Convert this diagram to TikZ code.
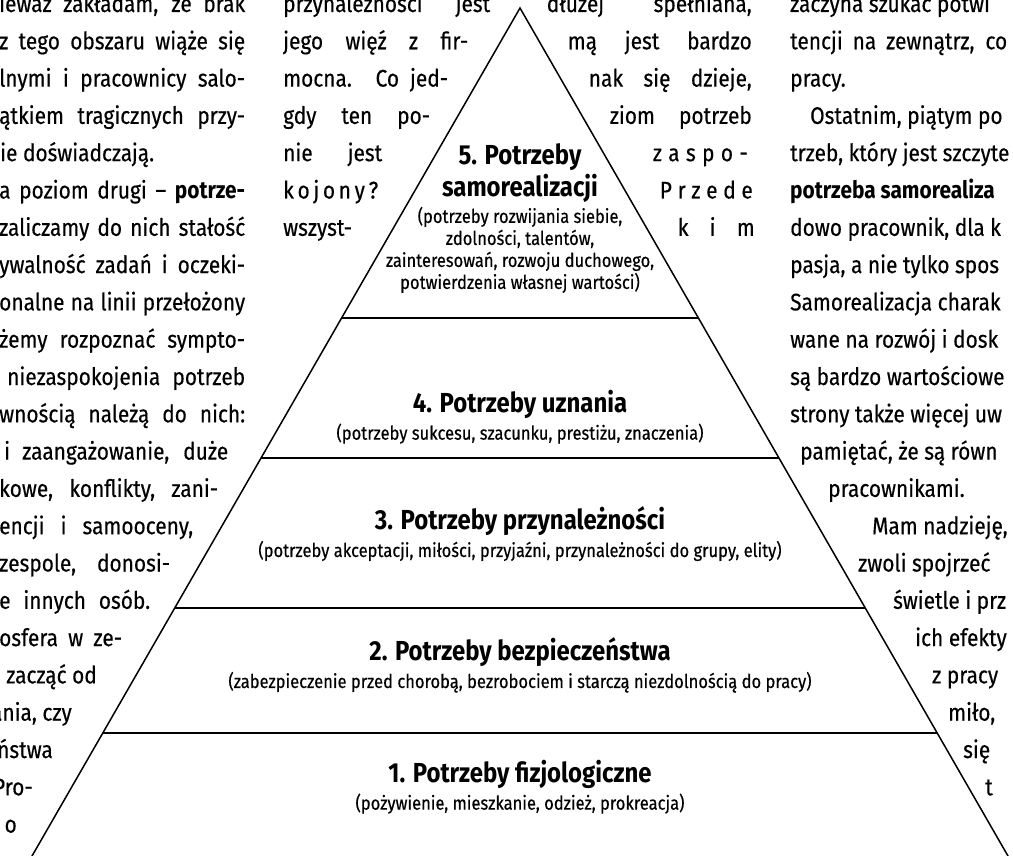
\documentclass[tikz,border=0pt]{standalone}
\usepackage{fontspec}
\setmainfont{Fira Sans}[FakeStretch=0.87, UprightFeatures={FakeBold=0.4}]
\usetikzlibrary{positioning,calc}
\newcommand{\just}[2]{\makebox[#1][s]{#2}}

\begin{document}
\begin{tikzpicture}[
  x=1pt, y=-1pt,
  node distance=5pt,
  every node/.style={inner sep=0pt, text=black},
  body/.style={font=\fontsize{24}{28}\selectfont},
  title/.style={font=\fontsize{27.5}{32}\selectfont\bfseries, align=center},
  sub/.style={font=\fontsize{19}{22}\selectfont, align=center},
  tier/.style={line width=1.5pt}
]
\useasboundingbox (0,0) rectangle (1013,856);
\clip (0,0) rectangle (1013,856);

% piramida
\coordinate (top) at (520,8);
\coordinate (bl) at (6.7,900);
\coordinate (br) at (1033.3,900);
\draw[tier, line join=miter] (bl) -- (top) -- (br);
\coordinate (l54) at ($(top)!0.3475!(bl)$);
\coordinate (r54) at ($(top)!0.3475!(br)$);
\coordinate (l43) at ($(top)!0.5045!(bl)$);
\coordinate (r43) at ($(top)!0.5045!(br)$);
\coordinate (l32) at ($(top)!0.6726!(bl)$);
\coordinate (r32) at ($(top)!0.6726!(br)$);
\coordinate (l21) at ($(top)!0.8128!(bl)$);
\coordinate (r21) at ($(top)!0.8128!(br)$);
\draw[tier] (l54) -- (r54);
\draw[tier] (l43) -- (r43);
\draw[tier] (l32) -- (r32);
\draw[tier] (l21) -- (r21);

\node[title] (t5) at (520,173) {5. Potrzeby\\samorealizacji};
\node[sub, below=4pt of t5] (s5) {(potrzeby rozwijania siebie,\\zdolności, talentów,\\zainteresowań, rozwoju duchowego,\\potwierdzenia własnej wartości)};
\node[title] (t4) at (520,404) {4. Potrzeby uznania};
\node[sub, below=of t4] (s4) {(potrzeby sukcesu, szacunku, prestiżu, znaczenia)};
\node[title] (t3) at (520,521) {3. Potrzeby przynależności};
\node[sub, below=of t3] (s3) {(potrzeby akceptacji, miłości, przyjaźni, przynależności do grupy, elity)};
\node[title] (t2) at (520,652) {2. Potrzeby bezpieczeństwa};
\node[sub, below=of t2] (s2) {(zabezpieczenie przed chorobą, bezrobociem i starczą niezdolnością do pracy)};
\node[title] (t1) at (520,774) {1. Potrzeby fizjologiczne};
\node[sub, below=of t1] (s1) {(pożywienie, mieszkanie, odzież, prokreacja)};

% lewa kolumna
\node[body, anchor=base west] (lc1) at (-1,12) {\just{246pt}{ieważ zakładam, że brak}};
\node[body, anchor=base west] (lc2) at (-1,49.3) {\just{246pt}{z tego obszaru wiąże się}};
\node[body, anchor=base west] (lc3) at (-1,86.6) {\just{246pt}{lnymi i pracownicy salo-}};
\node[body, anchor=base west] (lc4) at (-1,123.9) {\just{246pt}{ątkiem tragicznych przy-}};
\node[body, anchor=base west] (lc5) at (0,161.2) {ie doświadczają.};
\node[body, anchor=base west] (lc6) at (-1,198.5) {\just{246pt}{a poziom drugi – \textbf{potrze-}}};
\node[body, anchor=base west] (lc7) at (-1,235.8) {\just{246pt}{zaliczamy do nich stałość}};
\node[body, anchor=base west] (lc8) at (-1,273.1) {\just{246pt}{ywalność zadań i oczeki-}};
\node[body, anchor=base west] (lc9) at (-1,310.4) {\just{246pt}{onalne na linii przełożony}};
\node[body, anchor=base west] (lc10) at (-1,347.7) {\just{246pt}{żemy rozpoznać sympto-}};
\node[body, anchor=base west] (lc11) at (7,385) {\just{238pt}{niezaspokojenia potrzeb}};
\node[body, anchor=base west] (lc12) at (-1,422.3) {\just{246pt}{wnością należą do nich:}};
\node[body, anchor=base west] (lc13) at (4,459.6) {\just{224pt}{i zaangażowanie, duże}};
\node[body, anchor=base west] (lc14) at (-1,496.9) {\just{219pt}{kowe, konflikty, zani-}};
\node[body, anchor=base west] (lc15) at (-1,534.2) {\just{194pt}{encji i samooceny,}};
\node[body, anchor=base west] (lc16) at (-1,571.5) {\just{171pt}{zespole, donosi-}};
\node[body, anchor=base west] (lc17) at (-1,608.8) {\just{151pt}{e innych osób.}};
\node[body, anchor=base west] (lc18) at (-1,646.1) {\just{123pt}{osfera w ze-}};
\node[body, anchor=base east] (lc19) at (97,683.4) {zacząć od};
\node[body, anchor=base east] (lc20) at (72,720.7) {ania, czy};
\node[body, anchor=base east] (lc21) at (53,758) {ństwa};
\node[body, anchor=base east] (lc22) at (33,795.3) {Pro-};
\node[body, anchor=base east] (lc23) at (17,832.6) {o};

% srodkowa kolumna
\node[body, anchor=base west] (ml1) at (283,12) {\just{207pt}{przynależności jest}};
\node[body, anchor=base west] (ml2) at (283,49.3) {\just{185pt}{jego więź z fir-}};
\node[body, anchor=base west] (ml3) at (283,86.6) {\just{165pt}{mocna. Co jed-}};
\node[body, anchor=base west] (ml4) at (283,123.9) {\just{147pt}{gdy ten po-}};
\node[body, anchor=base west] (ml5) at (283,161.2) {\just{99pt}{nie jest}};
\node[body, anchor=base west] (ml6) at (283,198.5) {\makebox[95pt]{k\hfill o\hfill j\hfill o\hfill n\hfill y\hfill ?}};
\node[body, anchor=base west] (ml7) at (283,235.8) {wszyst-};
\node[body, anchor=base east] (mr1) at (752,12) {\just{205pt}{dłużej spełniana,}};
\node[body, anchor=base east] (mr2) at (752,49.3) {\just{184pt}{mą jest bardzo}};
\node[body, anchor=base east] (mr3) at (752,86.6) {\just{163pt}{nak się dzieje,}};
\node[body, anchor=base east] (mr4) at (752,123.9) {\just{142pt}{ziom potrzeb}};
\node[body, anchor=base east] (mr5) at (748,161.2) {\makebox[95pt]{z\hfill a\hfill s\hfill p\hfill o\hfill -}};
\node[body, anchor=base east] (mr6) at (753,198.5) {\makebox[93pt]{P\hfill r\hfill z\hfill e\hfill d\hfill e}};
\node[body, anchor=base east] (mr7) at (755,235.8) {\makebox[77pt]{k\hfill i\hfill m}};

% prawa kolumna
\node[body, anchor=base west] (rc1) at (790,12) {zaczyna szukać potwi};
\node[body, anchor=base west] (rc2) at (790,49.3) {\just{217pt}{tencji na zewnątrz, co}};
\node[body, anchor=base west] (rc3) at (790,86.6) {pracy.};
\node[body, anchor=base west] (rc4) at (810,123.9) {Ostatnim, piątym po};
\node[body, anchor=base west] (rc5) at (790,161.2) {trzeb, który jest szczyte};
\node[body, anchor=base west] (rc6) at (790,198.5) {\textbf{potrzeba samorealiza}};
\node[body, anchor=base west] (rc7) at (790,235.8) {dowo pracownik, dla k};
\node[body, anchor=base west] (rc8) at (790,273.1) {pasja, a nie tylko spos};
\node[body, anchor=base west] (rc9) at (790,310.4) {Samorealizacja charak};
\node[body, anchor=base west] (rc10) at (790,347.7) {wane na rozwój i dosk};
\node[body, anchor=base west] (rc11) at (790,385) {są bardzo wartościowe};
\node[body, anchor=base west] (rc12) at (790,422.3) {strony także więcej uw};
\node[body, anchor=base west] (rc13) at (800,459.6) {pamiętać, że są równ};
\node[body, anchor=base west] (rc14) at (828,496.9) {pracownikami.};
\node[body, anchor=base west] (rc15) at (872,534.2) {Mam nadzieję,};
\node[body, anchor=base west] (rc16) at (858,571.5) {zwoli spojrzeć};
\node[body, anchor=base west] (rc17) at (893,608.8) {świetle i prz};
\node[body, anchor=base west] (rc18) at (915,646.1) {ich efekty};
\node[body, anchor=base west] (rc19) at (932,683.4) {z pracy};
\node[body, anchor=base west] (rc20) at (948,720.7) {miło,};
\node[body, anchor=base west] (rc21) at (963,758) {się};
\node[body, anchor=base west] (rc22) at (985,795.3) {t};
\end{tikzpicture}
\end{document}
